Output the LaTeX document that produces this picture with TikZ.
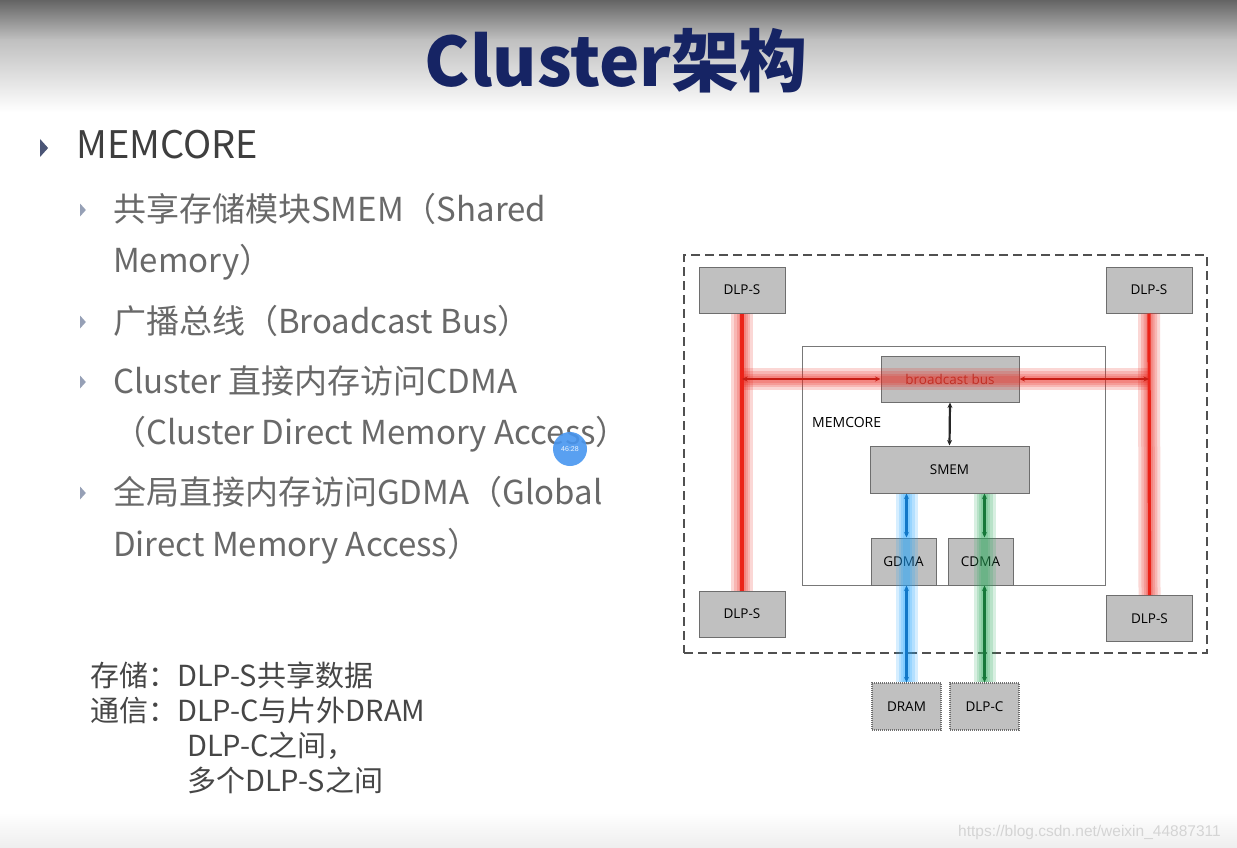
\documentclass[tikz,border=0pt]{standalone}
\usepackage{fontspec}
\setmainfont{Noto Sans CJK SC}
\newfontfamily\diagfont{Open Sans}
\newfontfamily\markfont{Liberation Sans}
\usetikzlibrary{arrows.meta}
\definecolor{titleblue}{RGB}{22,36,100}
\definecolor{headgray}{RGB}{62,62,62}
\definecolor{bodygray}{RGB}{105,105,105}
\definecolor{notegray}{RGB}{70,70,70}
\definecolor{boxgray}{RGB}{192,192,192}
\definecolor{boxline}{RGB}{110,110,110}
\definecolor{busred}{RGB}{235,35,25}
\definecolor{gdmablue}{RGB}{18,120,200}
\definecolor{gdmaglow}{RGB}{30,165,255}
\definecolor{cdmagreen}{RGB}{22,120,58}
\definecolor{cdmaglow}{RGB}{40,170,90}
\definecolor{tickblue}{RGB}{75,85,118}
\definecolor{subtick}{RGB}{150,160,182}
\tikzset{
  txt/.style={anchor=base west, inner sep=0pt},
  head/.style={txt, text=headgray, font=\fontsize{38}{38}\selectfont},
  item/.style={txt, text=bodygray, font=\fontsize{33}{33}\selectfont},
  note/.style={txt, text=notegray, font=\fontsize{29}{29}\selectfont},
  block/.style={draw=boxline, fill=boxgray, line width=1pt, inner sep=0pt,
    minimum width=86pt, minimum height=46pt, font=\diagfont\fontsize{13.5}{13.5}\selectfont},
  block-dma/.style={block, minimum width=65pt, minimum height=47pt},
  block-ext/.style={block, densely dotted, line width=1.2pt, minimum width=69pt, minimum height=47pt},
  link/.style={line width=2.2pt, {Stealth[length=5.5pt,width=5pt]}-{Stealth[length=5.5pt,width=5pt]}},
  halo/.style={line width=#1, opacity=.18, line cap=butt}
}
% small bullet triangle
\newcommand{\tick}[4]{\fill[#4] (#1,#2-#3) -- (#1,#2+#3) -- (#1+0.9*#3,#2) -- cycle;}

\begin{document}
\begin{tikzpicture}[x=1pt,y=-1pt]
  \useasboundingbox (0,0) rectangle (1237,848);
  \fill[white] (0,0) rectangle (1237,848);
  % slide background
  \shade[top color={rgb,255:red,100;green,100;blue,100}, bottom color={rgb,255:red,192;green,192;blue,192}]
    (0,0) rectangle (1237,40);
  \shade[top color={rgb,255:red,192;green,192;blue,192}, bottom color=white]
    (0,40) rectangle (1237,112);
  \shade[top color=white, bottom color={rgb,255:red,238;green,238;blue,238}]
    (0,812) rectangle (1237,848);

  % title
  \node[anchor=base, inner sep=0pt, text=titleblue, font=\bfseries\fontsize{68}{68}\selectfont]
    (title) at (616,87) {Cluster架构};

  % bullet list
  \tick{40}{148}{9}{tickblue}
  \node[head] (memcore) at (76,158) {MEMCORE};
  \foreach \y in {210,322,382,493}{
    \tick{80}{\y}{6.5}{subtick}
  }
  \node[item] (smemA) at (113,221) {共享存储模块SMEM（Shared};
  \node[item] (smemB) at (113,272) {Memory）};
  \node[item] (bus-t) at (113,333) {广播总线（Broadcast Bus）};
  \node[item] (cdmaA) at (113,393) {Cluster 直接内存访问CDMA};
  \node[item] (cdmaB) at (113,444) {（Cluster Direct Memory Access）};
  \node[item] (gdmaA) at (113,504) {全局直接内存访问GDMA（Global};
  \node[item] (gdmaB) at (113,556) {Direct Memory Access）};

  % video time stamp
  \node[circle, fill={rgb,255:red,72;green,150;blue,240}, fill opacity=.9, text=white,
    minimum size=34pt, inner sep=0pt, font=\markfont\fontsize{7}{7}\selectfont] (stamp) at (570,449) {46:28};

  % notes
  \node[note] (noteA) at (90,686) {存储：DLP-S共享数据};
  \node[note] (noteB) at (90,721) {通信：DLP-C与片外DRAM};
  \node[note] (noteC) at (187,756) {DLP-C之间，};
  \node[note] (noteD) at (187,791) {多个DLP-S之间};

  % cluster frame and memcore
  \node[draw={rgb,255:red,80;green,80;blue,80}, line width=2pt, dash pattern=on 9pt off 5pt,
    minimum width=523pt, minimum height=398pt] (cluster) at (945.5,454) {};
  \node[draw={rgb,255:red,120;green,120;blue,120}, fill=white, line width=0.8pt,
    minimum width=303pt, minimum height=239pt] (mem) at (953.5,465.5) {};
  \node[anchor=base west, inner sep=0pt, font=\diagfont\fontsize{14}{14}\selectfont] (memlbl) at (812,427) {MEMCORE};

  % blocks
  \node[block] (dlpsTL) at (742,290) {DLP-S};
  \node[block] (dlpsTR) at (1149,290) {DLP-S};
  \node[block] (dlpsBL) at (742,614) {DLP-S};
  \node[block] (dlpsBR) at (1149.5,618.5) {DLP-S};
  \node[block, minimum width=138pt, text={rgb,255:red,150;green,60;blue,50}] (bus) at (950,379) {broadcast bus};
  \node[block, minimum width=159pt, minimum height=47pt] (smem) at (949.5,469.5) {SMEM};
  \node[block-dma] (gdma) at (903.5,561.5) {GDMA};
  \node[block-dma] (cdma) at (980.5,561.5) {CDMA};
  \node[block-ext] (dram) at (906.5,706.5) {DRAM};
  \node[block-ext] (dlpc) at (984.5,706.5) {DLP-C};

  \coordinate (jL) at (dlpsTL.south |- bus.west);
  \coordinate (jR) at (dlpsTR.south |- bus.east);

  % broadcast bus (red)
  \foreach \w in {22pt,16pt,11pt,7pt}{
    \draw[halo=\w, busred] (dlpsTL.south) -- (dlpsBL.north);
    \draw[halo=\w, busred] (dlpsTR.south) -- (dlpsBR.north);
    \draw[halo=\w, busred] (jL) -- (jR);
  }
  \draw[line width=3.2pt, busred] (dlpsTL.south) -- (dlpsBL.north);
  \draw[line width=3.2pt, busred] (dlpsTR.south) -- (dlpsBR.north);
  \draw[link, busred!85!black] (jL) -- (bus.west);
  \draw[link, busred!85!black] (bus.east) -- (jR);

  % bus to smem
  \draw[link, black!85] (bus.south) -- (smem.north);

  % gdma / cdma paths
  \foreach \w in {22pt,16pt,11pt,7pt}{
    \draw[halo=\w, gdmaglow] (smem.south -| dram.north) -- (dram.north);
    \draw[halo=\w, cdmaglow] (smem.south -| dlpc.north) -- (dlpc.north);
  }
  \draw[link, gdmablue] (smem.south -| dram.north) -- (gdma.north -| dram.north);
  \draw[link, gdmablue] (gdma.south -| dram.north) -- (dram.north);
  \draw[link, cdmagreen] (smem.south -| dlpc.north) -- (cdma.north -| dlpc.north);
  \draw[link, cdmagreen] (cdma.south -| dlpc.north) -- (dlpc.north);

  % watermark
  \node[anchor=base west, inner sep=0pt, text={rgb,255:red,212;green,212;blue,212},
    font=\markfont\fontsize{15.5}{15.5}\selectfont] (mark) at (958,836) {https://blog.csdn.net/weixin\_44887311};
\end{tikzpicture}
\end{document}
